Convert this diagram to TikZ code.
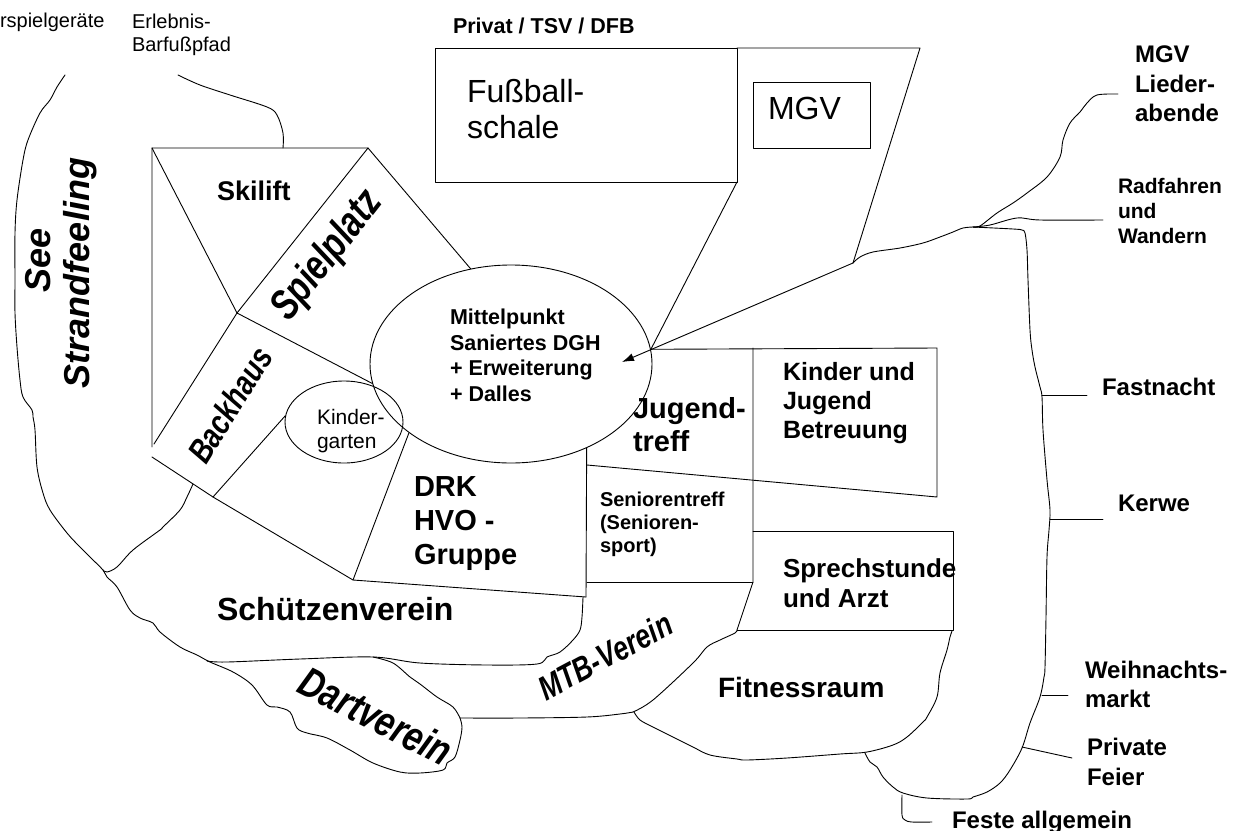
\documentclass[tikz,border=0pt]{standalone}
\usepackage{graphicx}
\usepackage{fontspec}
\setmainfont{Liberation Sans}
\usetikzlibrary{shapes.geometric,arrows.meta}
\newcommand{\fsz}[2]{\fontsize{#1}{#2}\selectfont}
\newcommand{\narrowtxt}[2]{\scalebox{#1}[1]{#2}}
\begin{document}
\begin{tikzpicture}[x=1pt,y=-1pt,
  ln/.style={line width=0.9pt,line join=round,line cap=round},
  lb/.style={inner sep=0pt,outer sep=0pt,anchor=north west,align=left},
  rl/.style={inner sep=0pt,outer sep=0pt,anchor=center},
  sm/.style={smooth,tension=0.55}]
\fill[white] (0,0) rectangle (1252,830);
\useasboundingbox (0,0) rectangle (1252,830);

% ---------- texts top left
\node[lb,font=\fsz{20}{23}] (wasser) at (0,13) {rspielgeräte};
\node[lb,font=\fsz{20}{23}] (erleb) at (132,14) {Erlebnis-\\Barfußpfad};

% ---------- ellipses
\node[draw,ln,ellipse,minimum width=282pt,minimum height=198pt,inner sep=0pt] (dgh) at (511,364) {};
\node[draw,ln,ellipse,minimum width=118pt,minimum height=82pt,inner sep=0pt] (kiga) at (344,422) {};

% ---------- top boxes
\coordinate (fbTL) at (435,48);
\coordinate (fbBR) at (737,182);
\coordinate (fbTR) at (737,48);
\coordinate (tzTR) at (920,48);
\coordinate (tzBR) at (853,263);
\coordinate (arrtip) at (622,362);
\draw[ln] (fbTL) rectangle (fbBR);
\draw[ln] (fbTR) -- (tzTR) -- (tzBR);
\node[draw,ln,anchor=north west,minimum width=117pt,minimum height=66pt,inner sep=0pt] (mgvbox) at (753,82) {};
\draw[ln] (fbBR) -- (dgh.6);
\draw[ln,-{Latex[length=12pt,width=8pt]}] (tzBR) -- (arrtip);

% ---------- left cluster
\coordinate (a1) at (152,148);
\coordinate (a2) at (368,148);
\coordinate (a3) at (237,313);
\coordinate (a4) at (152,447);
\coordinate (a5) at (154,444);
\coordinate (b1) at (152,457);
\coordinate (b2) at (213,497);
\coordinate (b3) at (353,580);
\coordinate (c1) at (586,597);
\draw[ln] (a4) -- (a1) -- (a2) -- (dgh.113);
\draw[ln] (a1) -- (a3) -- (a2);
\draw[ln] (a5) -- (a3) -- (dgh.188);
\draw[ln] (b1) -- (b2) -- (b3) -- (c1);
\draw[ln] (b2) -- (kiga.174);
\draw[ln] (dgh.214) -- (b3);

% ---------- right cluster boxes
\coordinate (j1) at (587,465);
\coordinate (j2) at (937,348);
\coordinate (j3) at (937,497);
\coordinate (k1) at (753,348);
\coordinate (k2) at (753,582);
\coordinate (s0) at (587,582);
\coordinate (s1) at (753,531);
\coordinate (s2) at (953,531);
\coordinate (s3) at (953,630);
\coordinate (s4) at (737,630);
\draw[ln] (dgh.312) -- (c1);
\draw[ln] (dgh.6) -- (j2) -- (j3) -- (j1);
\draw[ln] (k1) -- (k2) -- (s4);
\draw[ln] (s0) -- (k2);
\draw[ln] (s1) -- (s2) -- (s3) -- (s4);

% ---------- outer freehand outlines
\draw[ln] plot[sm] coordinates {(65,75) (57,87) (50,100) (40,113) (28,140) (23,160) (17,200) (15,233) (15,280) (15,313) (17,347) (20,380) (23,397) (32,410) (33,417) (35,430) (37,467) (43,493) (50,510) (67,533) (80,547) (90,557) (103,570) (107,577) (117,587) (130,610) (140,618) (153,623) (160,632) (180,647) (197,655) (210,662) (233,672) (252,685) (267,705) (277,707) (290,712) (297,728) (307,733) (327,738) (350,750) (373,763) (400,772) (420,773) (443,770) (447,763) (455,757) (460,740) (462,727) (460,718)};
\draw[ln] plot[sm] coordinates {(178,75) (200,85) (230,95) (267,107) (277,115) (283,133) (283,148)};
\draw[ln] plot[sm] coordinates {(193,484) (187,497) (180,510) (163,527) (160,530) (133,550) (117,567) (107,572) (103,570)};
\draw[ln] plot[sm] coordinates {(207,661) (227,662) (300,659) (373,657) (420,663) (487,665) (537,664) (547,657) (560,652) (573,640) (580,630) (582,617) (583,597)};
\draw[ln] plot[sm] coordinates {(373,657) (393,663) (410,677) (420,684) (437,697) (453,707) (460,718)};
\draw[ln] plot[sm] coordinates {(460,718) (520,718) (587,717) (620,714) (633,712)};
\draw[ln] plot[sm] coordinates {(633,712) (653,700) (693,663) (707,647) (720,640) (735,633) (737,630)};
\draw[ln] plot[sm] coordinates {(634,712) (640,720) (653,727) (673,737) (693,747) (710,755) (737,759) (747,760) (787,758) (840,754) (867,752) (893,745) (907,737) (923,722) (927,717) (937,697) (940,673) (947,650) (950,637) (952,631)};
\draw[ln] plot[sm] coordinates {(865,753) (870,762) (877,767) (883,777) (893,787) (903,793) (927,798) (967,799) (973,797) (987,792) (1000,783) (1010,770) (1022,748) (1030,723) (1040,697) (1044,677) (1045,667) (1046,617) (1047,557) (1049,530) (1050,510) (1047,480) (1043,430) (1042,397) (1040,387) (1035,367) (1032,350) (1030,330) (1028,280) (1027,250) (1025,233) (1022,230) (1013,229) (973,227)};
\draw[ln] plot[sm] coordinates {(853,263) (860,257) (873,252) (900,248) (923,243) (940,237) (953,232) (963,228) (973,227)};
\draw[ln] plot[sm] coordinates {(973,227) (980,226) (997,213) (1013,203) (1027,193) (1047,177) (1060,157) (1063,140) (1070,123) (1080,112) (1087,103) (1097,95) (1118,94)};
\draw[ln] plot[sm] coordinates {(973,227) (990,225) (1017,218) (1040,220) (1103,220)};
\draw[ln] plot[sm] coordinates {(902,795) (902,815) (905,820) (912,822) (932,822)};

% ---------- event ticks
\coordinate (fa0) at (1042,395); \coordinate (fa1) at (1087,395);
\coordinate (ke0) at (1050,519); \coordinate (ke1) at (1103,519);
\coordinate (we0) at (1042,695); \coordinate (we1) at (1068,695);
\coordinate (pr0) at (1022,747); \coordinate (pr1) at (1072,758);
\draw[ln] (fa0) -- (fa1);
\draw[ln] (ke0) -- (ke1);
\draw[ln] (we0) -- (we1);
\draw[ln] (pr0) -- (pr1);

% ---------- labels
\node[lb,font=\bfseries\fsz{21.5}{25}] (privat) at (453,18) {Privat / TSV / DFB};
\node[lb,font=\fsz{32}{36}] (fuss) at (467,79) {Fußball-\\schale};
\node[lb,font=\fsz{32}{36}] (mgv) at (768,97) {MGV};
\node[lb,font=\bfseries\fsz{24}{29.5}] (mgvl) at (1135,46) {MGV\\Lieder-\\abende};
\node[lb,font=\bfseries\fsz{21}{25}] (rad) at (1118,178) {Radfahren\\und\\Wandern};
\node[lb,font=\bfseries\fsz{24}{29}] (fastn) at (1102,378) {Fastnacht};
\node[lb,font=\bfseries\fsz{24}{29}] (kerwe) at (1118,495) {Kerwe};
\node[lb,font=\bfseries\fsz{24}{29}] (weih) at (1085,661) {Weihnachts-\\markt};
\node[lb,font=\bfseries\fsz{24}{30}] (priv) at (1087,738) {Private\\Feier};
\node[lb,font=\bfseries\fsz{24}{29}] (feste) at (952,811) {Feste allgemein};
\node[lb,font=\bfseries\fsz{27}{30}] (ski) at (217,181) {Skilift};
\node[lb,font=\bfseries\fsz{21.5}{25.5}] (mitte) at (450,309) {Mittelpunkt\\Saniertes DGH\\+ Erweiterung\\+ Dalles};
\node[lb,font=\bfseries\fsz{29}{33}] (jug) at (633,397) {Jugend-\\treff};
\node[lb,font=\bfseries\fsz{25}{29}] (kjb) at (783,362) {Kinder und\\Jugend\\Betreuung};
\node[lb,font=\bfseries\fsz{20}{23}] (sen) at (600,492) {Seniorentreff\\(Senioren-\\sport)};
\node[lb,font=\bfseries\fsz{26}{30}] (sprech) at (783,559) {Sprechstunde\\und Arzt};
\node[lb,font=\bfseries\fsz{28}{32}] (fit) at (718,677) {Fitnessraum};
\node[lb,font=\bfseries\fsz{29}{34}] (drk) at (414,477) {DRK\\HVO -\\Gruppe};
\node[lb,font=\bfseries\fsz{32}{36}] (schuetz) at (217,597) {Schützenverein};
\node[lb,font=\fsz{21}{24}] (kigat) at (317,409) {Kinder-\\garten};

% ---------- rotated labels
\node[rl,rotate=90,font=\bfseries\itshape\fsz{36}{40}] (see) at (38,260) {See};
\node[rl,rotate=90,font=\bfseries\itshape\fsz{36}{40}] (strand) at (80,273) {Strandfeeling};
\node[rl,rotate=52,font=\bfseries\itshape\fsz{42}{46}] (spiel) at (328,256) {\narrowtxt{0.78}{Spielplatz}};
\node[rl,rotate=58,font=\bfseries\itshape\fsz{34}{38}] (back) at (230,405) {\narrowtxt{0.8}{Backhaus}};
\node[rl,rotate=-27,font=\bfseries\itshape\fsz{42}{46}] (dart) at (376,716) {\narrowtxt{0.8}{Dartverein}};
\node[rl,rotate=28,font=\bfseries\itshape\fsz{34}{38}] (mtb) at (605,656) {\narrowtxt{0.78}{MTB-Verein}};
\end{tikzpicture}
\end{document}
